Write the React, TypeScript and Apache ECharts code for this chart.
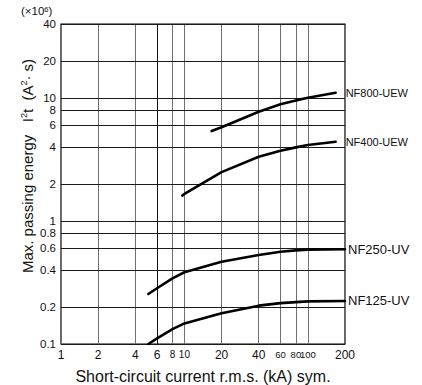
import React, { useEffect, useRef } from 'react';
import * as echarts from 'echarts';

const FONT = 'Liberation Sans, Arial, Helvetica, sans-serif';

const xTickValues = [1, 2, 4, 6, 8, 10, 20, 40, 60, 80, 100, 200];
const xTickLabels = ['1', '2', '4', '6', '8', '10', '20', '40', '60', '80', '100', '200'];
const yTickValues = [0.1, 0.2, 0.4, 0.6, 0.8, 1, 2, 4, 6, 8, 10, 20, 40];
const yTickLabels = ['0.1', '0.2', '0.4', '0.6', '0.8', '1', '2', '4', '6', '8', '10', '20', '40'];

const seriesNames = ['NF800-UEW', 'NF400-UEW', 'NF250-UV', 'NF125-UV'];

const nf800Current = [16.6, 20, 40, 60, 80, 100, 168];
const nf800Energy = [5.39, 5.78, 7.74, 8.89, 9.57, 10.05, 11.04];

const nf400Current = [9.6, 10, 20, 40, 60, 80, 100, 168];
const nf400Energy = [1.61, 1.66, 2.5, 3.33, 3.73, 3.97, 4.15, 4.41];

const nf250Current = [5.1, 6, 8, 10, 20, 40, 60, 80, 100, 200];
const nf250Energy = [0.255, 0.284, 0.342, 0.383, 0.467, 0.529, 0.563, 0.577, 0.585, 0.589];

const nf125Current = [5.1, 6, 8, 10, 20, 40, 60, 80, 100, 200];
const nf125Energy = [0.1, 0.111, 0.132, 0.147, 0.178, 0.205, 0.215, 0.219, 0.222, 0.224];

const curves = [
  { name: seriesNames[0], x: nf800Current, y: nf800Energy },
  { name: seriesNames[1], x: nf400Current, y: nf400Energy },
  { name: seriesNames[2], x: nf250Current, y: nf250Energy },
  { name: seriesNames[3], x: nf125Current, y: nf125Energy },
];

function xLabelSize(v: number) {
  if (v === 8 || v === 10) return 10;
  if (v === 60 || v === 80 || v === 100) return 9.5;
  return 12;
}

export default function App() {
  const ref = useRef<HTMLDivElement>(null);

  useEffect(() => {
    document.body.style.margin = '0';
    if (!ref.current) return;
    const chart = echarts.init(ref.current, undefined, { renderer: 'svg' });

    const vLines = xTickValues.map((v, i) => ({
      xAxis: v,
      lineStyle: {
        color: v === 6 ? '#111' : '#707070',
        width: 1,
        type: 'solid',
      },
      label: {
        show: true,
        position: 'start',
        formatter: xTickLabels[i],
        fontSize: xLabelSize(v),
        fontFamily: FONT,
        color: '#111',
        distance: 5,
      },
    }));

    const hLines = yTickValues.map((v, i) => ({
      yAxis: v,
      lineStyle: { color: '#1a1a1a', width: 1, type: 'solid' },
      label: {
        show: true,
        position: 'start',
        formatter: yTickLabels[i],
        fontSize: 11.5,
        lineHeight: 10,
        fontFamily: FONT,
        color: '#111',
        distance: 5,
      },
    }));

    const series: any[] = curves.map((c, idx) => ({
      name: c.name,
      type: 'line',
      data: c.x.map((xv, k) => [xv, c.y[k]]),
      showSymbol: false,
      symbol: 'none',
      smooth: false,
      lineStyle: { color: '#000', width: 2.6, join: 'round', cap: 'round' },
      z: 5,
      endLabel: {
        show: true,
        formatter: c.name,
        color: '#111',
        fontFamily: FONT,
        fontSize: idx < 2 ? 11 : 13,
        distance: idx < 2 ? 10 : 3,
      },
      ...(idx === 0
        ? {
            markLine: {
              silent: true,
              symbol: ['none', 'none'],
              animation: false,
              z: 1,
              lineStyle: { type: 'solid' },
              emphasis: { disabled: true },
              data: [...vLines, ...hLines],
            },
          }
        : {}),
    }));

    chart.setOption({
      animation: false,
      textStyle: { fontFamily: FONT },
      grid: {
        left: 61,
        right: 77,
        top: 24,
        bottom: 41,
        show: true,
        borderColor: '#000',
        borderWidth: 1.2,
        backgroundColor: 'transparent',
      },
      xAxis: {
        type: 'log',
        logBase: 10,
        min: 1,
        max: 200,
        axisLine: { show: false },
        axisTick: { show: false },
        axisLabel: { show: false },
        splitLine: { show: false },
        minorSplitLine: { show: false },
      },
      yAxis: {
        type: 'log',
        logBase: 10,
        min: 0.1,
        max: 40,
        axisLine: { show: false },
        axisTick: { show: false },
        axisLabel: { show: false },
        splitLine: { show: false },
        minorSplitLine: { show: false },
      },
      graphic: [
        {
          type: 'text',
          x: 21,
          y: 11,
          style: {
            text: '(×10{s|6})',
            fontSize: 11.5,
            fontFamily: FONT,
            fill: '#111',
            align: 'left',
            verticalAlign: 'middle',
            rich: { s: { fontSize: 7.5, verticalAlign: 'top', fontFamily: FONT, fill: '#111' } },
          },
        },
        {
          type: 'text',
          x: 27,
          y: 166,
          rotation: Math.PI / 2,
          style: {
            text: 'Max. passing energy   I{s|2}t  (A{s|2}· s)',
            fontSize: 15,
            fontFamily: FONT,
            fill: '#111',
            align: 'center',
            verticalAlign: 'middle',
            rich: { s: { fontSize: 9, verticalAlign: 'top', fontFamily: FONT, fill: '#111' } },
          },
        },
        {
          type: 'text',
          x: 203,
          y: 376,
          style: {
            text: 'Short-circuit current r.m.s. (kA) sym.',
            fontSize: 16,
            fontFamily: FONT,
            fill: '#111',
            align: 'center',
            verticalAlign: 'middle',
          },
        },
      ],
      series,
    });

    return () => chart.dispose();
  }, []);

  return <div ref={ref} style={{ width: 422, height: 385 }} />;
}
